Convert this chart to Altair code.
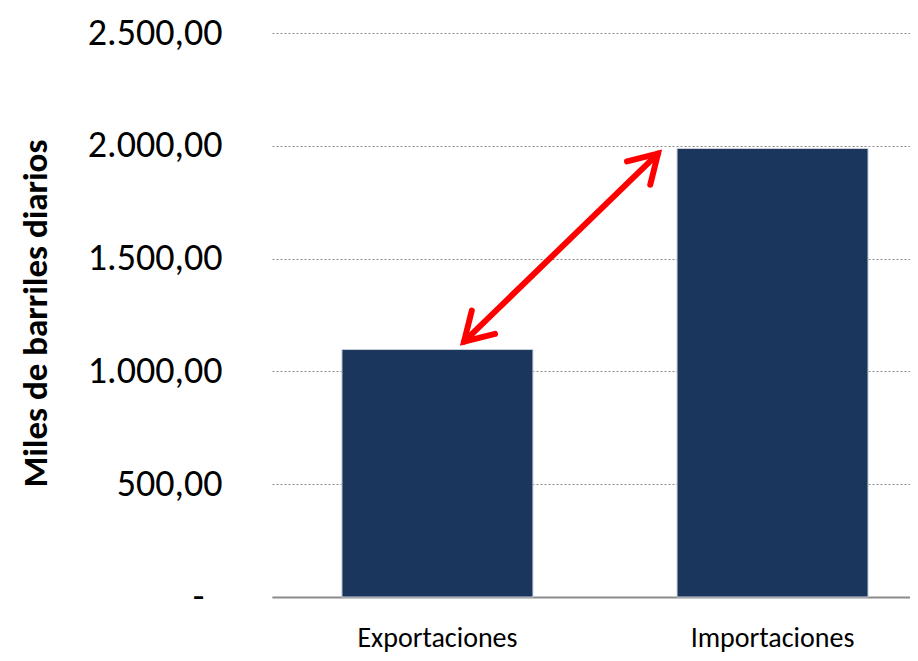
import altair as alt
import pandas as pd

categories = ["Exportaciones", "Importaciones"]
values = [1097, 1988]

# arrow annotation (y in data units, x as fraction of plot width)
arrow_x = [0.301, 0.605]
arrow_y = [1132, 1965]
arrow_angle = [225, 45]

FONT = "Calibri, Carlito, Lato, sans-serif"

bars_df = pd.DataFrame({"cat": categories, "val": values})
shaft_df = pd.DataFrame({"x": [arrow_x[0]], "x2": [arrow_x[1]], "y": [arrow_y[0]], "y2": [arrow_y[1]]})
heads_df = pd.DataFrame({"x": arrow_x, "y": arrow_y, "ang": arrow_angle})

yscale = alt.Scale(domain=[0, 2500], nice=False)

bars = alt.Chart(bars_df).mark_bar(color="#1A365D", stroke="#c9ced8", strokeWidth=1).encode(
    x=alt.X("cat:N", sort=categories,
            scale=alt.Scale(paddingInner=0.43, paddingOuter=0.167, align=0.625),
            axis=alt.Axis(title=None, labelAngle=0, labelFont=FONT, labelFontSize=28,
                          labelColor="#000000", labelPadding=27, ticks=False, tickSize=0,
                          domainColor="#8c8c8c", domainWidth=2, grid=False)),
    y=alt.Y("val:Q", scale=yscale,
            axis=alt.Axis(title="Miles de barriles diarios", values=[0, 500, 1000, 1500, 2000, 2500],
                          labelExpr="datum.value == 0 ? '-' : replace(replace(replace(format(datum.value, ',.2f'), ',', '#'), '.', ','), '#', '.')",
                          labelFont=FONT, labelFontSize=38, labelColor="#000000",
                          labelPadding={"condition": {"test": "datum.value == 0", "value": 68}, "value": 50},
                          ticks=False, tickSize=0, domain=False,
                          grid=True, gridColor="#8c8c8c", gridDash=[2, 2], gridWidth=1,
                          titleFont=FONT, titleFontSize=35, titleFontWeight="bold", titleColor="#000000",
                          titleBaseline="alphabetic", titleX=-226, titleY=280, titleAngle=270)),
)

xq = alt.Scale(domain=[0, 1], nice=False, zero=False)

shaft = alt.Chart(shaft_df).mark_rule(color="#FF0000", strokeWidth=6, strokeCap="round").encode(
    x=alt.X("x:Q", scale=xq, axis=None),
    x2="x2:Q",
    y=alt.Y("y:Q", scale=yscale),
    y2="y2:Q",
)

heads = alt.Chart(heads_df).mark_point(
    shape="M -0.6 1 L 0 0 L 0.6 1", filled=False, color="#FF0000",
    strokeWidth=6, strokeCap="round", strokeJoin="miter", size=3000, opacity=1,
).encode(
    x=alt.X("x:Q", scale=xq, axis=None),
    y=alt.Y("y:Q", scale=yscale),
    angle=alt.Angle("ang:Q", scale=None),
)

chart = alt.layer(bars, shaft, heads).resolve_scale(x="independent").properties(
    width=638, height=564,
    autosize=alt.AutoSizeParams(type="none"),
    padding={"left": 264, "top": 25, "right": 0, "bottom": 56},
).configure_view(stroke=None)

chart.save("out.html", embed_options={"renderer": "svg", "actions": False})
